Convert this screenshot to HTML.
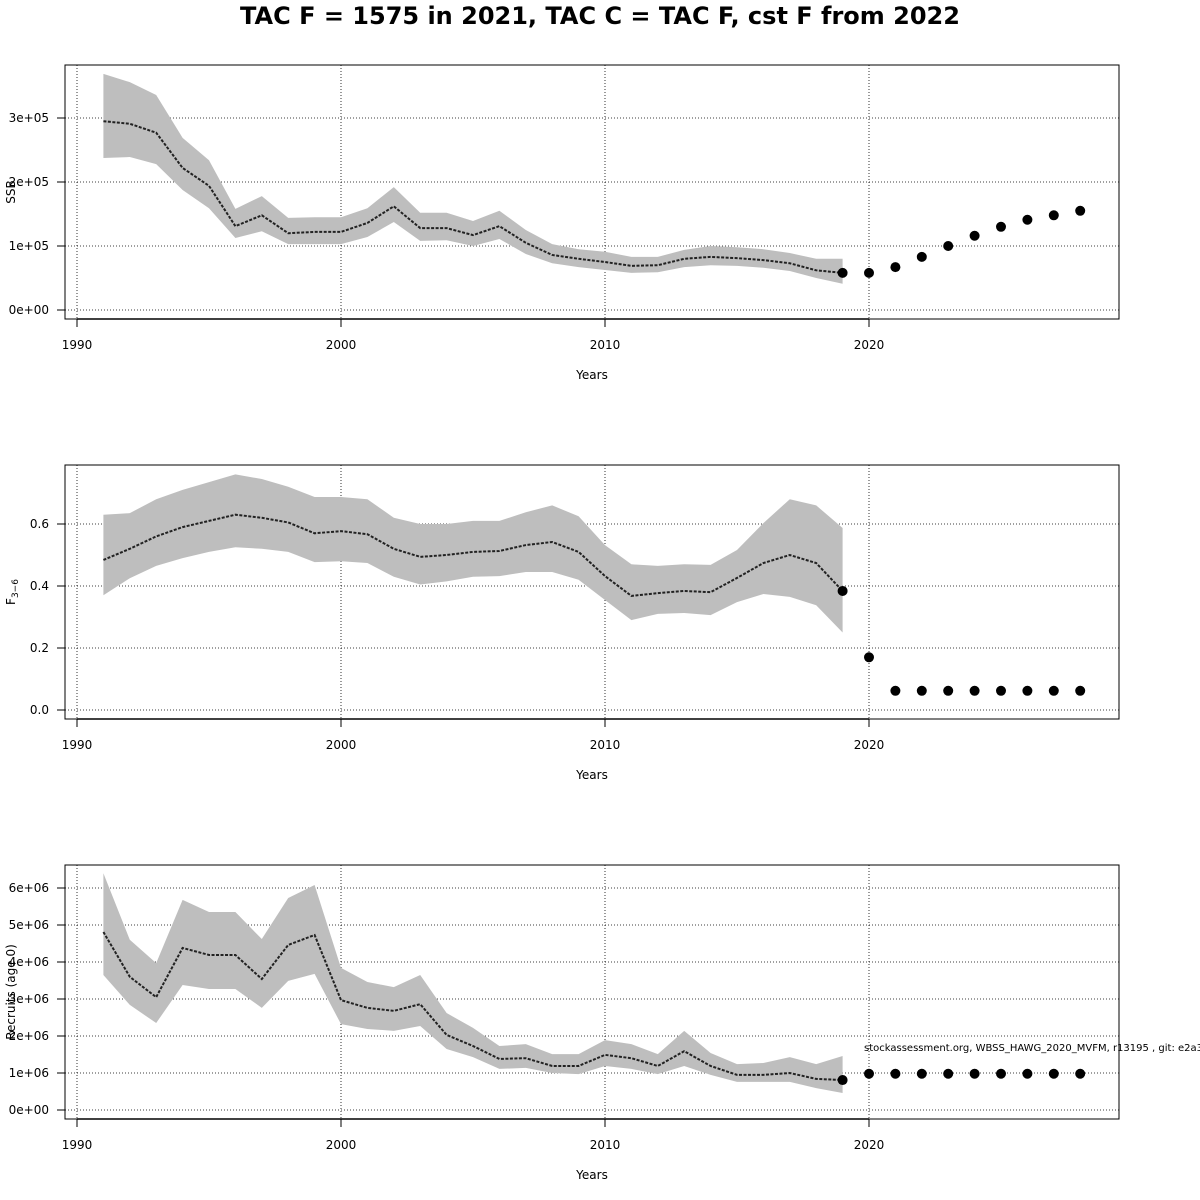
<!DOCTYPE html>
<html><head><meta charset="utf-8">
<style>
body{margin:0;background:#fff;}
svg{display:block;font-family:"DejaVu Sans","Liberation Sans",sans-serif;}
</style></head>
<body>
<svg id="chart" width="1200" height="1200" viewBox="0 0 1200 1200">
<text x="600" y="24" text-anchor="middle" font-size="24" font-weight="bold">TAC F = 1575 in 2021, TAC C = TAC F, cst F from 2022</text>
</svg>
<script>
const years = [1991,1992,1993,1994,1995,1996,1997,1998,1999,2000,2001,2002,2003,2004,2005,2006,2007,2008,2009,2010,2011,2012,2013,2014,2015,2016,2017,2018,2019];
const projYears = [2019,2020,2021,2022,2023,2024,2025,2026,2027,2028];

const ssb = [2.95,2.91,2.77,2.22,1.94,1.31,1.48,1.20,1.22,1.22,1.36,1.62,1.28,1.28,1.17,1.31,1.05,0.86,0.80,0.75,0.69,0.70,0.80,0.83,0.81,0.78,0.73,0.62,0.58];
const ssbHi = [3.69,3.56,3.36,2.69,2.34,1.58,1.78,1.44,1.45,1.45,1.59,1.92,1.52,1.52,1.39,1.55,1.25,1.03,0.95,0.91,0.83,0.83,0.94,1.0,0.98,0.95,0.89,0.80,0.80];
const ssbLo = [2.375,2.39,2.28,1.875,1.59,1.125,1.23,1.03,1.03,1.03,1.14,1.375,1.08,1.09,1.0,1.11,0.875,0.73,0.67,0.625,0.58,0.59,0.67,0.70,0.69,0.66,0.61,0.50,0.41];
const ssbProj = [0.58,0.58,0.67,0.83,1.0,1.16,1.30,1.41,1.48,1.55];

const fbar = [0.484,0.52,0.56,0.59,0.61,0.63,0.62,0.605,0.57,0.577,0.567,0.52,0.494,0.50,0.51,0.513,0.532,0.542,0.51,0.432,0.368,0.377,0.384,0.38,0.426,0.474,0.50,0.474,0.384];
const fbarHi = [0.63,0.635,0.68,0.71,0.735,0.76,0.745,0.72,0.687,0.687,0.68,0.62,0.60,0.60,0.61,0.61,0.638,0.66,0.625,0.532,0.47,0.465,0.47,0.468,0.516,0.603,0.68,0.66,0.587];
const fbarLo = [0.37,0.425,0.465,0.49,0.51,0.525,0.52,0.51,0.477,0.48,0.474,0.43,0.405,0.415,0.43,0.432,0.445,0.445,0.42,0.355,0.29,0.31,0.313,0.306,0.348,0.374,0.365,0.338,0.25];
const fbarProj = [0.384,0.17,0.062,0.062,0.062,0.062,0.062,0.062,0.062,0.062];

const rec = [4.81,3.6,3.05,4.38,4.19,4.19,3.54,4.46,4.73,2.97,2.76,2.68,2.86,2.03,1.73,1.38,1.40,1.19,1.19,1.49,1.40,1.19,1.59,1.19,0.95,0.95,1.0,0.84,0.81];
const recHi = [6.4,4.6,3.97,5.68,5.35,5.35,4.62,5.73,6.08,3.84,3.46,3.32,3.65,2.62,2.22,1.73,1.78,1.51,1.51,1.89,1.78,1.51,2.14,1.54,1.24,1.27,1.43,1.24,1.46];
const recLo = [3.65,2.84,2.35,3.38,3.27,3.27,2.76,3.49,3.68,2.32,2.19,2.14,2.27,1.65,1.43,1.11,1.14,1.0,0.97,1.19,1.11,0.97,1.19,0.95,0.76,0.76,0.76,0.59,0.46];
const recProj = [0.81,0.98,0.98,0.98,0.98,0.98,0.98,0.98,0.98,0.98];

const xTicks = [1990,2000,2010,2020];
const ssbTicks = [0,1,2,3], ssbTickLabels = ["0e+00","1e+05","2e+05","3e+05"];
const fTicks = [0,0.2,0.4,0.6], fTickLabels = ["0.0","0.2","0.4","0.6"];
const recTicks = [0,1,2,3,4,5,6], recTickLabels = ["0e+00","1e+06","2e+06","3e+06","4e+06","5e+06","6e+06"];

const NS="http://www.w3.org/2000/svg";
const svg=document.getElementById('chart');
function mk(tag,attrs,parent){const e=document.createElementNS(NS,tag);for(const k in attrs)e.setAttribute(k,attrs[k]);(parent||svg).appendChild(e);return e;}
const xs = y => 77 + (y-1990)*26.4;

function panel(name, top, y0, ppu, mid, hi, lo, proj, ticks, tickLabels, ylab){
  const g=mk('g',{});
  
  
  const ys = v => y0 - v*ppu;
  const bottom = top+254;
  xTicks.forEach(t=>{const l=mk('line',{x1:xs(t),x2:xs(t),y1:top,y2:bottom,stroke:'#000','stroke-width':0.8,'stroke-dasharray':'1,2'},g);
    
    });
  ticks.forEach(t=>{const l=mk('line',{x1:65,x2:1119,y1:ys(t),y2:ys(t),stroke:'#000','stroke-width':0.8,'stroke-dasharray':'1,2'},g);
    
    });
  let pts=years.map((y,i)=>xs(y)+','+ys(hi[i]));
  for(let i=years.length-1;i>=0;i--)pts.push(xs(years[i])+','+ys(lo[i]));
  const band=mk('polygon',{points:pts.join(' '),fill:'#bebebe'},g);
  
  
  const line=mk('polyline',{points:years.map((y,i)=>xs(y)+','+ys(mid[i])).join(' '),fill:'none',stroke:'#222','stroke-width':2,'stroke-dasharray':'3,1.5'},g);
  
  
  proj.forEach((v,i)=>{const c=mk('circle',{cx:xs(projYears[i]),cy:ys(v),r:5,fill:'#000'},g);
    
    });
  const box=mk('rect',{x:65,y:top,width:1054,height:254,fill:'none',stroke:'#000','stroke-width':1},g);
  
  
  mk('line',{x1:xs(1990),x2:xs(2020),y1:bottom,y2:bottom,stroke:'#000','stroke-width':1.5},g);
  xTicks.forEach(t=>{mk('line',{x1:xs(t),x2:xs(t),y1:bottom,y2:bottom+8,stroke:'#000'},g);
    const tx=mk('text',{x:xs(t),y:bottom+30,'text-anchor':'middle','font-size':12},g);tx.textContent=t;
    
    });
  const xl=mk('text',{x:592,y:top+314,'text-anchor':'middle','font-size':12},g);xl.textContent='Years';
  
  
  ticks.forEach((t,i)=>{mk('line',{x1:57,x2:65,y1:ys(t),y2:ys(t),stroke:'#000'},g);
    const tx=mk('text',{x:49,y:ys(t)+4,'text-anchor':'end','font-size':12},g);tx.textContent=tickLabels[i];
    
    });
  const yl=mk('text',{x:0,y:0,'text-anchor':'middle','font-size':12,transform:`translate(15,${top+127}) rotate(-90)`},g);
  if(ylab==='F'){yl.textContent='F';const s=mk('tspan',{'font-size':9,dy:3},yl);s.textContent='3\u22126';}
  else yl.textContent=ylab;
  
  
}
panel('ssb',65,310,64,ssb,ssbHi,ssbLo,ssbProj,ssbTicks,ssbTickLabels,'SSB');
panel('fbar',465,710,310,fbar,fbarHi,fbarLo,fbarProj,fTicks,fTickLabels,'F');
panel('recruits',865,1110,37,rec,recHi,recLo,recProj,recTicks,recTickLabels,'Recruits (age 0)');
const fn=mk('text',{x:864,y:1051,'font-size':10});
fn.textContent='stockassessment.org, WBSS_HAWG_2020_MVFM, r13195 , git: e2a30';


</script>
</body></html>
